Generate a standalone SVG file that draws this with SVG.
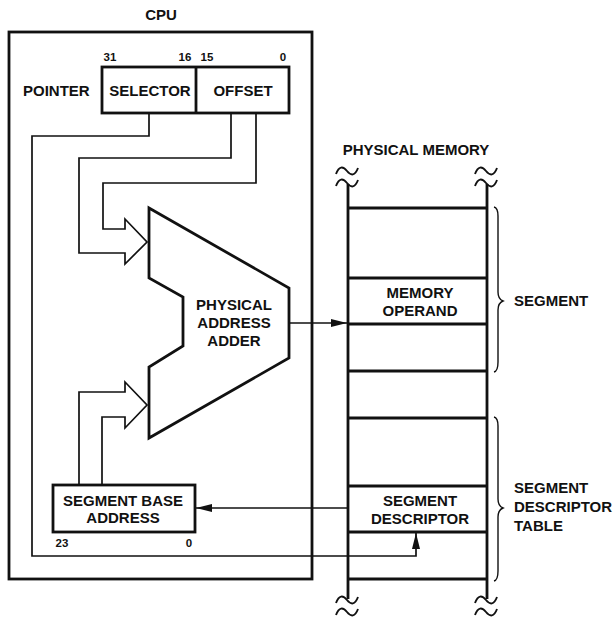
<svg xmlns="http://www.w3.org/2000/svg" width="616" height="618" viewBox="0 0 616 618">
<defs>
<style>
text{font-family:"Liberation Sans",Arial,sans-serif;font-weight:bold;fill:#111}
.t{font-size:15px}
.n{font-size:11.5px}
.c{text-anchor:middle}
.box{fill:none;stroke:#111;stroke-width:2.8}
.thick{fill:none;stroke:#111;stroke-width:2.8}
.wire{fill:none;stroke:#111;stroke-width:1.7}
.br{fill:none;stroke:#111;stroke-width:1.4}
.tl{fill:none;stroke:#111;stroke-width:1.9}
</style>
<marker id="ah" viewBox="0 0 16 8" refX="16" refY="4" markerWidth="16" markerHeight="8" markerUnits="userSpaceOnUse" orient="auto">
<path d="M0,0 L16,4 L0,8 Z" fill="#111"/>
</marker>
<path id="tilde" d="M-11,3 C-8,-5 -4,-5 0,0 S8,5 11,-3"/>
</defs>
<rect width="616" height="618" fill="#fff"/>

<g id="cpu">
<rect class="box" x="9" y="32" width="303" height="547"/>
<text class="t c" x="161" y="20">CPU</text>
</g>

<g id="pointer">
<rect class="box" x="102" y="67" width="187" height="46"/>
<line class="thick" x1="196" y1="67" x2="196" y2="113"/>
<text class="t" x="23" y="96">POINTER</text>
<text class="t c" x="150" y="96">SELECTOR</text>
<text class="t c" x="243" y="96">OFFSET</text>
<text class="n c" x="110" y="61">31</text>
<text class="n c" x="185" y="61">16</text>
<text class="n c" x="207" y="61">15</text>
<text class="n c" x="283" y="61">0</text>
</g>

<g id="adder">
<polygon class="thick" points="149,208 289,288 289,358 149,438 149,367 183,346 183,297 149,278"/>
<text class="t c" x="234" y="310">PHYSICAL</text>
<text class="t c" x="234" y="328">ADDRESS</text>
<text class="t c" x="234" y="346">ADDER</text>
</g>

<g id="segbase">
<rect class="box" x="53" y="485" width="142" height="47"/>
<text class="t c" x="123" y="506">SEGMENT BASE</text>
<text class="t c" x="123" y="523">ADDRESS</text>
<text class="n c" x="62" y="547">23</text>
<text class="n c" x="189" y="547">0</text>
</g>

<g id="memory">
<text class="t c" x="416" y="155">PHYSICAL MEMORY</text>
<line class="thick" x1="348" y1="184" x2="348" y2="599"/>
<line class="thick" x1="487" y1="184" x2="487" y2="599"/>
<g class="tl">
<use href="#tilde" x="347" y="171"/>
<use href="#tilde" x="347" y="183"/>
<use href="#tilde" x="486" y="171"/>
<use href="#tilde" x="486" y="183"/>
<use href="#tilde" x="347" y="600"/>
<use href="#tilde" x="347" y="612"/>
<use href="#tilde" x="486" y="600"/>
<use href="#tilde" x="486" y="612"/>
</g>
<g class="thick">
<line x1="348" y1="208" x2="487" y2="208"/>
<line x1="348" y1="278" x2="487" y2="278"/>
<line x1="348" y1="324" x2="487" y2="324"/>
<line x1="348" y1="371" x2="487" y2="371"/>
<line x1="348" y1="418" x2="487" y2="418"/>
<line x1="348" y1="486" x2="487" y2="486"/>
<line x1="348" y1="532" x2="487" y2="532"/>
<line x1="348" y1="579" x2="487" y2="579"/>
</g>
<text class="t c" x="420" y="298">MEMORY</text>
<text class="t c" x="420" y="316">OPERAND</text>
<text class="t c" x="420" y="506">SEGMENT</text>
<text class="t c" x="420" y="524">DESCRIPTOR</text>
</g>

<g id="segment-brace">
<path class="br" d="M494,207 Q498,208 498,216 L498,292 Q498,299 503,301 Q498,303 498,310 L498,362 Q498,371 494,372"/>
<text class="t" x="514" y="306">SEGMENT</text>
</g>

<g id="sdt-brace">
<path class="br" d="M494,417 Q498,418 498,426 L498,499 Q498,506 503,508 Q498,510 498,517 L498,571 Q498,580 494,581"/>
<text class="t" x="514" y="493">SEGMENT</text>
<text class="t" x="514" y="512">DESCRIPTOR</text>
<text class="t" x="514" y="531">TABLE</text>
</g>

<g id="connectors">
<polyline class="wire" points="231,113 231,158 79,158 79,253 125,253 125,264 147,242 125,219 125,229 103,229 103,183 256,183 256,113"/>
<polyline class="wire" points="79,485 79,392 125,392 125,382 147,405 125,428 125,417 102,417 102,485"/>
<polyline class="wire" points="149,113 149,136 32,136 32,556 416,556 416,533" marker-end="url(#ah)"/>
<line class="wire" x1="289" y1="323" x2="347" y2="323" marker-end="url(#ah)"/>
<line class="wire" x1="347" y1="508" x2="196" y2="508" marker-end="url(#ah)"/>
</g>
</svg>
